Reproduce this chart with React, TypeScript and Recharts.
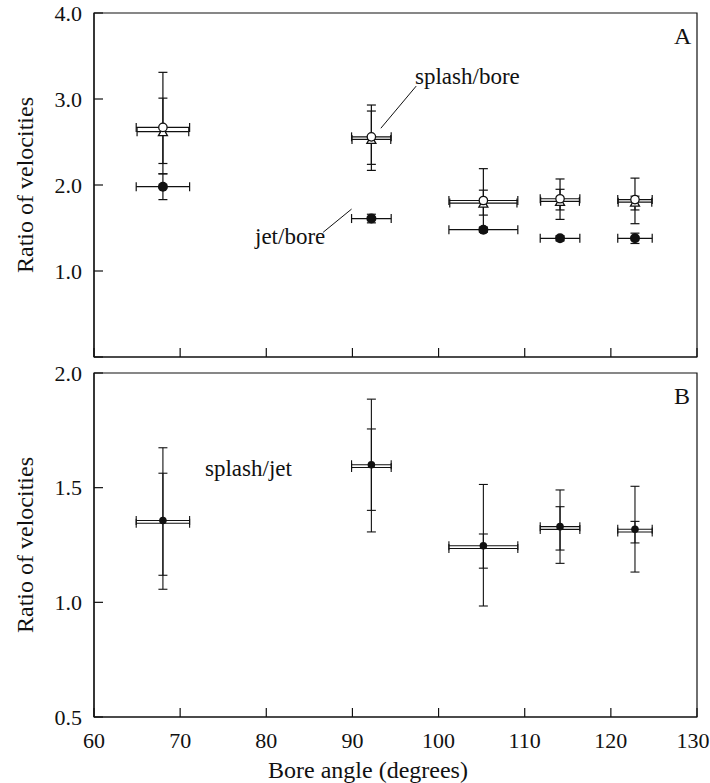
import { ScatterChart, Scatter, XAxis, YAxis, ErrorBar, ReferenceArea, ReferenceLine } from 'recharts'

// bore angle positions (degrees) and their horizontal errors
const boreAngles = [68.0, 92.2, 105.2, 114.1, 122.8]
const angleErr = [3.1, 2.3, 4.0, 2.3, 2.0]
const angleErr2 = [3.0, 2.25, 3.9, 2.25, 1.95]

// panel A: splash/bore (open circle, open triangle) and jet/bore (filled circle)
const splashBoreCircle = [2.67, 2.56, 1.82, 1.84, 1.83]
const splashBoreCircleErr: [number, number][] = [[0.42, 0.64], [0.32, 0.37], [0.32, 0.37], [0.24, 0.23], [0.28, 0.25]]
const splashBoreTriangle = [2.62, 2.53, 1.79, 1.81, 1.8]
const splashBoreTriangleErr: [number, number][] = [[0.49, 0.39], [0.36, 0.33], [0.14, 0.15], [0.1, 0.14], [0.09, 0.07]]
const jetBore = [1.98, 1.61, 1.48, 1.38, 1.38]
const jetBoreErr: [number, number][] = [[0.15, 0.15], [0.05, 0.05], [0.03, 0.03], [0.03, 0.03], [0.06, 0.06]]

// panel B: splash/jet, two overlapping error sets
const splashJet = [1.357, 1.6, 1.247, 1.33, 1.319]
const splashJetErr: [number, number][] = [[0.3, 0.317], [0.293, 0.286], [0.263, 0.267], [0.16, 0.16], [0.187, 0.187]]
const splashJet2 = [1.345, 1.588, 1.235, 1.318, 1.307]
const splashJet2Err: [number, number][] = [[0.227, 0.218], [0.187, 0.168], [0.086, 0.063], [0.09, 0.099], [0.048, 0.046]]

const xTicks = [60, 70, 80, 90, 100, 110, 120, 130]
const yTicksA = [0, 1, 2, 3, 4]
const yTicksB = [0.5, 1, 1.5, 2]

const FONT = "'Times New Roman', 'Liberation Serif', Tinos, 'DejaVu Serif', serif"
const INK = '#111'

const toRows = (ys: number[], eys: [number, number][], exs: number[]) =>
  boreAngles.map((x, i) => ({ x, y: ys[i], ex: exs[i], ey: eys[i] }))

const XTick = ({ x, y, payload, showLabel }: any) => (
  <g>
    <line x1={x} x2={x} y1={y} y2={y - 9} stroke={INK} strokeWidth={1.2} />
    {showLabel && (
      <text x={payload.value === 130 ? x - 4 : x} y={y + 31} textAnchor="middle" fontFamily={FONT} fontSize={22} fill={INK}>
        {payload.value}
      </text>
    )}
  </g>
)

const YTick = ({ x, y, payload, hideZero }: any) => (
  <g>
    <line x1={x} x2={x + 9} y1={y} y2={y} stroke={INK} strokeWidth={1.2} />
    {!(hideZero && payload.value === 0) && (
      <text x={x - 12} y={y} dy="0.35em" textAnchor="end" fontFamily={FONT} fontSize={22} fill={INK}>
        {payload.value.toFixed(1)}
      </text>
    )}
  </g>
)

const OpenCircle = ({ cx, cy }: any) => <circle cx={cx} cy={cy} r={4.2} fill="#fff" stroke={INK} strokeWidth={1.3} />
const OpenTriangle = ({ cx, cy }: any) => (
  <polygon points={`${cx},${cy - 4} ${cx - 4.5},${cy + 4} ${cx + 4.5},${cy + 4}`} fill="#fff" stroke={INK} strokeWidth={1.3} />
)
const FilledCircle = ({ cx, cy, r }: any) => <circle cx={cx} cy={cy} r={r} fill={INK} />
const NoMark = () => <g />

const label = (left: number, top: number, text: string, extra: any = {}) => (
  <div
    style={{
      position: 'absolute',
      left,
      top,
      transform: 'translate(0, -50%)',
      fontFamily: FONT,
      fontSize: 23,
      color: INK,
      whiteSpace: 'nowrap',
      lineHeight: 1,
      ...extra,
    }}
  >
    {text}
  </div>
)

export default function App() {
  const triA = toRows(splashBoreTriangle, splashBoreTriangleErr, angleErr2)
  const circA = toRows(splashBoreCircle, splashBoreCircleErr, angleErr)
  const jetA = toRows(jetBore, jetBoreErr, angleErr)
  const sjB = toRows(splashJet, splashJetErr, angleErr)
  const sj2B = toRows(splashJet2, splashJet2Err, angleErr)

  const bars = (sw = 1.2) => [
    <ErrorBar key="ey" dataKey="ey" direction="y" width={4.5} stroke={INK} strokeWidth={sw} isAnimationActive={false} />,
    <ErrorBar key="ex" dataKey="ex" direction="x" width={4.5} stroke={INK} strokeWidth={sw} isAnimationActive={false} />,
  ]

  return (
    <div style={{ position: 'absolute', left: 0, top: 0, width: 710, height: 783, background: '#fff' }}>
      {/* Panel A */}
      <div style={{ position: 'absolute', left: 0, top: 0 }}>
        <ScatterChart width={710} height={370} margin={{ top: 13, right: 13, bottom: 0, left: 0 }}>
          <XAxis
            type="number"
            dataKey="x"
            domain={[60, 130]}
            ticks={xTicks}
            interval={0}
            height={13}
            tickSize={0}
            tickMargin={0}
            tickLine={false}
            axisLine={{ stroke: INK, strokeWidth: 1.2 }}
            tick={(p: any) => <XTick {...p} showLabel={false} />}
          />
          <YAxis
            type="number"
            dataKey="y"
            domain={[0, 4]}
            ticks={yTicksA}
            interval={0}
            width={94}
            tickSize={0}
            tickMargin={0}
            tickLine={false}
            axisLine={{ stroke: INK, strokeWidth: 1.2 }}
            tick={(p: any) => <YTick {...p} hideZero />}
          />
          <ReferenceArea x1={60} x2={130} y1={0} y2={4} fill="none" stroke={INK} strokeWidth={1.2} />
          <ReferenceLine segment={[{ x: 93.3, y: 2.66 }, { x: 97.4, y: 3.15 }]} stroke={INK} strokeWidth={1} />
          <ReferenceLine segment={[{ x: 86.6, y: 1.45 }, { x: 89.9, y: 1.72 }]} stroke={INK} strokeWidth={1} />
          <Scatter data={triA} shape={OpenTriangle} isAnimationActive={false}>
            {bars()}
          </Scatter>
          <Scatter data={circA} shape={OpenCircle} isAnimationActive={false}>
            {bars()}
          </Scatter>
          <Scatter data={jetA} shape={(p: any) => <FilledCircle {...p} r={5} />} isAnimationActive={false}>
            {bars()}
          </Scatter>
        </ScatterChart>
      </div>

      {/* Panel B */}
      <div style={{ position: 'absolute', left: 0, top: 360 }}>
        <ScatterChart width={710} height={423} margin={{ top: 13, right: 13, bottom: 0, left: 0 }}>
          <XAxis
            type="number"
            dataKey="x"
            domain={[60, 130]}
            ticks={xTicks}
            interval={0}
            height={66}
            tickSize={0}
            tickMargin={0}
            tickLine={false}
            axisLine={{ stroke: INK, strokeWidth: 1.2 }}
            tick={(p: any) => <XTick {...p} showLabel />}
          />
          <YAxis
            type="number"
            dataKey="y"
            domain={[0.5, 2]}
            ticks={yTicksB}
            interval={0}
            width={94}
            tickSize={0}
            tickMargin={0}
            tickLine={false}
            axisLine={{ stroke: INK, strokeWidth: 1.2 }}
            tick={(p: any) => <YTick {...p} />}
          />
          <ReferenceArea x1={60} x2={130} y1={0.5} y2={2} fill="none" stroke={INK} strokeWidth={1.2} />
          <Scatter data={sj2B} shape={NoMark} isAnimationActive={false}>
            {bars(1.1)}
          </Scatter>
          <Scatter data={sjB} shape={(p: any) => <FilledCircle {...p} r={3.8} />} isAnimationActive={false}>
            {bars(1.1)}
          </Scatter>
        </ScatterChart>
      </div>

      {label(415, 76, 'splash/bore')}
      {label(255, 236, 'jet/bore')}
      {label(205, 468, 'splash/jet')}
      {label(674, 36, 'A', { fontSize: 24 })}
      {label(674, 396, 'B', { fontSize: 24 })}
      {label(368, 770, 'Bore angle (degrees)', { fontSize: 24, transform: 'translate(-50%, -50%)' })}
      {label(25, 185, 'Ratio of velocities', { fontSize: 24, transform: 'translate(-50%, -50%) rotate(-90deg)' })}
      {label(25, 545, 'Ratio of velocities', { fontSize: 24, transform: 'translate(-50%, -50%) rotate(-90deg)' })}
    </div>
  )
}
